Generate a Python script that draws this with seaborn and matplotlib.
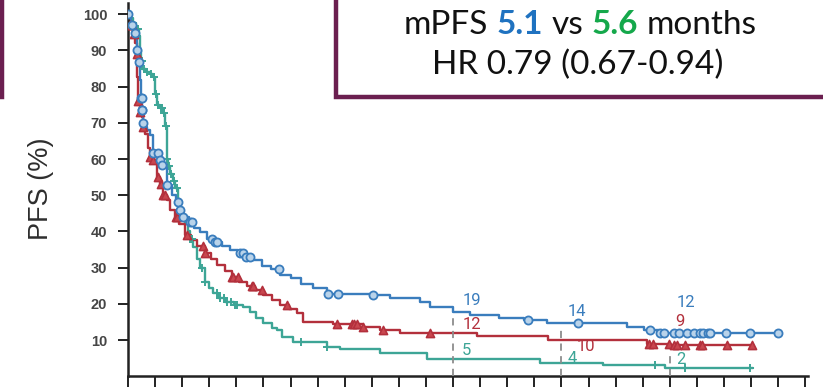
import numpy as np
import pandas as pd
import matplotlib
matplotlib.use("Agg")
import matplotlib.pyplot as plt
from matplotlib.patches import Rectangle
import seaborn as sns

# ---------------- data ----------------
# Kaplan-Meier step points: time (months) and PFS (%) after the step
blue_t = [0, 0.3, 0.44, 0.78, 1.0, 1.15, 1.33, 1.44, 1.55, 1.66, 1.9, 2.1, 2.4, 2.8, 3.4, 3.8,
          4.3, 4.9, 5.3, 5.6, 6.1, 6.7, 7.3, 8.0, 8.8, 9.6, 10.4, 11.3, 12.2, 13.0, 13.8, 14.8,
          15.8, 16.8, 18.0, 19.2, 20.5, 22.0, 26.8, 29.0, 32.3, 33.4, 36.0, 37.9, 41.1, 43.9,
          46.4, 55.3, 57.1, 58.8]
blue_s = [100, 98, 97, 94.7, 90, 86.7, 81.8, 77, 73.5, 70, 68.8, 68, 66.6, 61.6, 59.7, 58.3,
          52.8, 50, 48, 46, 44, 42.5, 41, 39.8, 38, 37, 36, 35, 34, 33, 32, 30.5,
          29.5, 28, 27, 25.5, 24.5, 22.8, 22.4, 21.5, 20.5, 19.1, 17.8, 16.9, 16.2, 15.5,
          14.7, 13.5, 12.7, 11.9]
blue_end = 72.0

red_t = [0, 0.2, 0.5, 0.8, 1.0, 1.05, 1.1, 1.3, 1.55, 1.66, 1.9, 2.2, 2.4, 2.7, 3.2, 3.5,
         3.9, 4.3, 4.6, 5.2, 5.6, 6.3, 7.0, 7.6, 8.5, 9.2, 9.9, 10.7, 11.5, 12.3, 13.2, 14.1,
         15.0, 15.9, 16.8, 17.8, 18.7, 19.4, 22.7, 26.0, 27.9, 30.1, 38.7, 46.5, 57.5, 60.0]
red_s = [100, 97, 94.5, 92, 89, 82.6, 76, 73, 71.5, 68.8, 67, 63, 60.5, 59.7, 55, 53,
         50, 48.6, 46, 44, 42, 39, 37.5, 36, 34, 32.5, 30.7, 29, 27.3, 26, 25, 23.8,
         22.4, 21, 19.6, 18.5, 17.4, 15.0, 14.4, 13.6, 12.7, 11.9, 11.1, 10.1, 9.0, 8.6]
red_end = 69.2

teal_t = [0, 0.3, 0.55, 0.9, 1.2, 1.33, 1.45, 1.6, 2.0, 2.4, 2.8, 3.0, 3.2, 3.5, 3.9, 4.1,
          4.3, 4.35, 4.4, 4.7, 5.0, 5.2, 5.5, 5.8, 6.0, 6.3, 6.6, 6.9, 7.2, 7.6, 8.0, 8.5,
          9.0, 9.4, 10.0, 10.7, 11.7, 12.7, 13.5, 14.2, 15.0, 16.0, 16.5, 17.0, 18.3, 22.0,
          23.5, 27.9, 33.1, 45.6, 52.6, 59.5]
teal_s = [100, 99, 97.5, 96, 94, 90, 87, 85, 84, 83.5, 82.6, 78, 75, 74, 72.6, 69,
          65, 60, 58, 56, 54, 52, 49, 46, 44, 42, 40, 38, 35.6, 32.5, 29.8, 26,
          24.5, 23, 21.5, 20.4, 19.7, 19, 17.7, 16, 14.6, 13.4, 12.7, 10.8, 9.5, 8.1,
          7.5, 6.4, 4.7, 3.6, 3.0, 2.2]
teal_end = 69.2

# censoring times (months)
blue_cens = [0.0, 0.45, 0.8, 1.0, 1.2, 1.45, 1.5, 1.55, 1.6, 1.66, 2.8, 3.3, 3.5, 3.8, 4.3,
             5.5, 5.8, 6.1, 6.9, 7.1, 9.3, 9.6, 9.9, 12.4, 12.7, 13.1, 13.5, 16.7, 22.1,
             23.2, 27.1, 44.3, 49.8, 57.8, 58.9, 59.3, 60.5, 61.0, 61.9, 62.7, 63.3, 63.7,
             64.2, 64.5, 66.2, 68.9, 72.0]
red_cens = [0.2, 0.45, 0.65, 1.0, 1.1, 1.33, 1.66, 2.4, 2.8, 3.3, 3.65, 3.9, 4.1, 5.3, 5.4,
            6.5, 8.3, 8.5, 11.5, 11.6, 12.2, 13.7, 13.8, 14.8, 17.6, 23.1, 24.8, 25.0, 25.4,
            26.0, 28.2, 33.4, 57.7, 58.1, 59.9, 60.5, 60.8, 61.7, 63.3, 63.6, 66.3, 69.1]
teal_cens = [0.6, 0.9, 1.1, 1.5, 1.8, 2.1, 2.5, 2.9, 3.1, 3.3, 3.6, 3.8, 4.0, 4.2, 4.35,
             4.5, 4.8, 5.1, 5.4, 6.9, 7.1, 8.2, 8.5, 9.9, 10.2, 10.6, 11.0, 11.4, 11.8,
             12.1, 19.2, 22.0, 58.4, 61.7, 68.9]

# landmark lines (months) and the number-at-risk labels next to them
landmarks = [36, 48, 60]
landmark_tops = [16.9, 13.5, 5.8]
risk_blue = ["19", "14", "12"]
risk_red = ["12", "10", "9"]
risk_teal = ["5", "4", "2"]
risk_blue_y = [21.0, 18.0, 20.4]
risk_red_y = [14.4, 8.3, 15.2]
risk_teal_y = [7.0, 5.0, 4.5]
risk_x = [37.0, 48.7, 60.7]
risk_red_x = [37.0, 49.7, 60.6]

yticks = [10, 20, 30, 40, 50, 60, 70, 80, 90, 100]
xticks = list(range(0, 76, 3))

C_BLUE = "#3A7DBD"
C_RED = "#B3303C"
C_TEAL = "#3DA596"

# ---------------- figure ----------------
sns.set_theme(style="ticks")
plt.rcParams["font.family"] = ["Liberation Sans", "DejaVu Sans"]

W, H = 823, 390
fig = plt.figure(figsize=(W / 100, H / 100), dpi=100)
ax = fig.add_axes([128 / W, (H - 376.2) / H, (808 - 128) / W, (376.2 - 2.7) / H])


def km_frame(t, s, end):
    tt = list(t) + [end]
    ss = list(s) + [s[-1]]
    return pd.DataFrame({"month": tt, "pfs": ss})


def surv_at(t, s, times):
    t = np.asarray(t)
    s = np.asarray(s)
    idx = np.searchsorted(t, np.asarray(times), side="right") - 1
    return pd.DataFrame({"month": times, "pfs": s[idx]})


for t, s, end, col in [(teal_t, teal_s, teal_end, C_TEAL),
                       (red_t, red_s, red_end, C_RED),
                       (blue_t, blue_s, blue_end, C_BLUE)]:
    sns.lineplot(data=km_frame(t, s, end), x="month", y="pfs", ax=ax, color=col,
                 linewidth=1.7, drawstyle="steps-post", estimator=None, sort=False)

cb = surv_at(blue_t, blue_s, blue_cens)
cr = surv_at(red_t, red_s, red_cens)
ct = surv_at(teal_t, teal_s, teal_cens)
sns.scatterplot(data=ct, x="month", y="pfs", ax=ax, marker="+", s=40, color=C_TEAL,
                linewidth=1.4, zorder=4)
sns.scatterplot(data=cr, x="month", y="pfs", ax=ax, marker="^", s=34, facecolor="#C9474F",
                edgecolor=C_RED, linewidth=1.2, zorder=5)
sns.scatterplot(data=cb, x="month", y="pfs", ax=ax, marker="o", s=34, facecolor="#B9D3EA",
                edgecolor=C_BLUE, linewidth=1.3, zorder=6)

for xm, top in zip(landmarks, landmark_tops):
    ax.plot([xm, xm], [0, top], color="#8C8C8C", linewidth=1.3, linestyle=(0, (4, 3)),
            zorder=3)

num_font = dict(fontsize=12, family=["Roboto", "DejaVu Sans"], va="center", ha="left")
for i in range(3):
    ax.text(risk_x[i], risk_blue_y[i], risk_blue[i], color=C_BLUE, **num_font)
    ax.text(risk_red_x[i], risk_red_y[i], risk_red[i], color=C_RED, **num_font)
    ax.text(risk_x[i], risk_teal_y[i], risk_teal[i], color=C_TEAL, **num_font)

ax.set_xlim(0, 75.3)
ax.set_ylim(0, 103.2)
ax.set_xticks(xticks)
ax.set_xticklabels([])
ax.set_yticks(yticks)
ax.set_yticklabels([str(v) for v in yticks], fontsize=10.5, color="#454545",
                   fontweight="bold")
ax.set_xlabel("")
ax.set_ylabel("")
ax.tick_params(axis="x", length=8, width=1.4, color="#222222", direction="out")
ax.tick_params(axis="y", length=7, width=1.4, color="#222222", direction="out", pad=8)
for sp in ["top", "right"]:
    ax.spines[sp].set_visible(False)
for sp in ["left", "bottom"]:
    ax.spines[sp].set_linewidth(1.8)
    ax.spines[sp].set_color("#222222")
ax.patch.set_alpha(0)

fig.text(41 / W, 1 - 189 / H, "PFS (%)", rotation=90, ha="center", va="center",
         fontsize=19.5, color="#2E2E2E",
         family=["Liberation Sans Narrow", "Liberation Sans", "DejaVu Sans"])

# ---------------- boxes ----------------
BOX_C = "#6B1F50"
fig.patches.append(Rectangle((336 / W, 1 - 97 / H), 0.7, 0.4, transform=fig.transFigure,
                             facecolor="white", edgecolor=BOX_C, linewidth=3.2, zorder=10))
fig.patches.append(Rectangle((-0.2, 1 - 97 / H), 0.2 + 1.5 / W, 0.4,
                             transform=fig.transFigure, facecolor="white",
                             edgecolor=BOX_C, linewidth=3.2, zorder=10))

box_font = ["Lato", "DejaVu Sans"]
fs = 24
pieces = [("mPFS", "#111111", "normal"), ("5.1", "#1F72C0", "bold"),
          ("vs", "#111111", "normal"), ("5.6", "#15A84B", "bold"),
          ("months", "#111111", "normal")]
renderer = fig.canvas.get_renderer()
probe = fig.text(0, 0, "a a", fontsize=fs, family=box_font)
probe2 = fig.text(0, 0, "aa", fontsize=fs, family=box_font)
space_w = (probe.get_window_extent(renderer).width - probe2.get_window_extent(renderer).width)
probe.remove()
probe2.remove()
arts = []
widths = []
for txt, col, wt in pieces:
    a = fig.text(0, 1 - 34 / H, txt, fontsize=fs, family=box_font, color=col,
                 fontweight=wt, va="baseline", ha="left", zorder=11)
    arts.append(a)
    widths.append(a.get_window_extent(renderer).width)
total = sum(widths) + space_w * (len(pieces) - 1)
x0 = 580 - total / 2
for a, w in zip(arts, widths):
    a.set_x(x0 / W)
    x0 += w + space_w

fig.text(578 / W, 1 - 74 / H, "HR 0.79 (0.67-0.94)", fontsize=fs, family=box_font,
         color="#111111", ha="center", va="baseline", zorder=11)

fig.savefig("out.png", dpi=100)
